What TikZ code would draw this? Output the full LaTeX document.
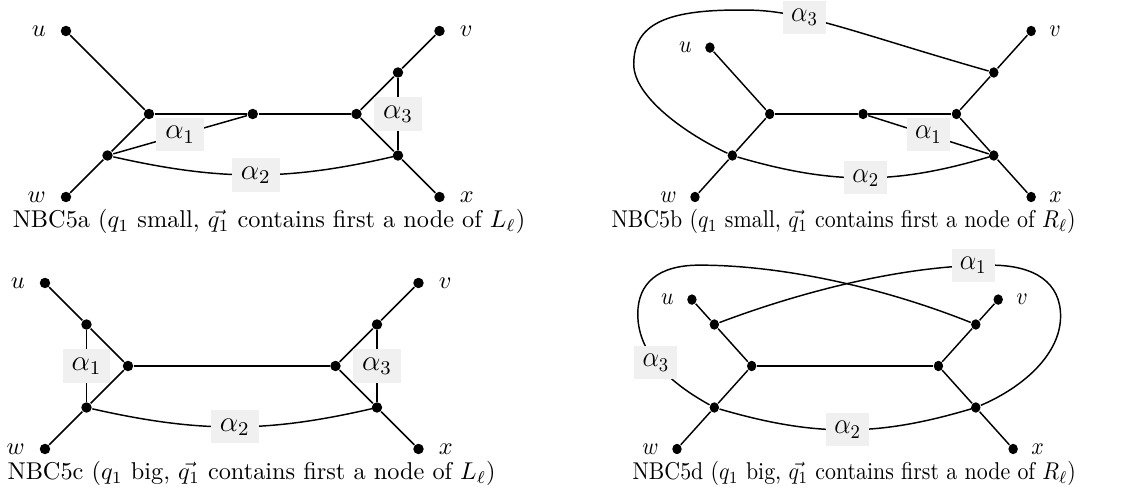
\documentclass[tikz,border=0pt]{standalone}
\usepackage{amsmath}
\usepackage{amssymb}
\tikzset{
  vert/.style={circle,fill,inner sep=0pt,minimum size=4.3pt},
  elab/.style={fill=gray!12,font=\large,inner sep=0.5pt,minimum width=19.7pt,minimum height=13.6pt},
  capt/.style={inner sep=0pt},
  every label/.style={inner sep=1pt},
}
\begin{document}
\begin{tikzpicture}[x=0.6cm,y=0.6cm,semithick,label distance=4.6pt]
    \useasboundingbox (-1.59,-7.108) rectangle (25.928,4.747);
    % NBC5a
    \begin{scope}[name prefix=a-]
        \node[vert,label=left:$u$] (u) at (0,4) {};
        \node[vert,label=left:$w$] (w) at (0,0) {};
        \node[vert,label=right:$v$] (v) at (9,4) {};
        \node[vert,label=right:$x$] (x) at (9,0) {};
        \node[vert] (l) at (2,2) {};
        \node[vert] (ll) at (1,1) {};
        \node[vert] (m) at (4.5,2) {};
        \node[vert] (r) at (7,2) {};
        \node[vert] (ur) at (8,3) {};
        \node[vert] (lr) at (8,1) {};
        \draw (u) -- (l) -- (ll) -- (w);
        \draw (l) -- (m) -- (r);
        \draw (v) -- (ur) -- (r) -- (lr) -- (x);
        \draw (ll) -- node[elab]{$\alpha_1$} (m);
        \draw (ll) to[bend right=13] node[elab]{$\alpha_2$} (lr);
        \draw (ur) -- node[elab]{$\alpha_3$} (lr);
        \node[capt,anchor=base west] (cap) at (-1.30,-0.74) {NBC5a ($q_1$ small, $\vec{q_1}$ contains first a node of $L_\ell$)};
    \end{scope}
    % NBC5b
    \begin{scope}[name prefix=b-,shift={(15.157,0)},xscale=0.9,transform shape]
        \node[vert,label=left:$u$] (u) at (0.4,3.6) {};
        \node[vert,label=left:$w$] (w) at (0,0) {};
        \node[vert,label=right:$v$] (v) at (9,4) {};
        \node[vert,label=right:$x$] (x) at (9,0) {};
        \node[vert] (l) at (2,2) {};
        \node[vert] (ll) at (1,1) {};
        \node[vert] (m) at (4.5,2) {};
        \node[vert] (r) at (7,2) {};
        \node[vert] (ur) at (8,3) {};
        \node[vert] (lr) at (8,1) {};
        \draw (u) -- (l) -- (ll) -- (w);
        \draw (l) -- (m) -- (r);
        \draw (v) -- (ur) -- (r) -- (lr) -- (x);
        \draw (m) -- node[elab]{$\alpha_1$} (lr);
        \draw (ll) to[bend right=15] node[elab]{$\alpha_2$} (lr);
        \draw (ur) .. controls (4.5,3.9) and (3,4.45) .. (1.6,4.5) node[elab,pos=0.7]{$\alpha_3$}
            .. controls (-0.6,4.55) and (-1.64,4.25) .. (-1.64,3.2)
            .. controls (-1.64,2.4) and (-0.2,1.5) .. (ll);
        \node[capt,anchor=base east] (cap) at (10.21,-0.74) {NBC5b ($q_1$ small, $\vec{q_1}$ contains first a node of $R_\ell$)};
    \end{scope}
    % NBC5c
    \begin{scope}[name prefix=c-,shift={(-0.506,-6.072)}]
        \node[vert,label=left:$u$] (u) at (0,4) {};
        \node[vert,label=left:$w$] (w) at (0,0) {};
        \node[vert,label=right:$v$] (v) at (9,4) {};
        \node[vert,label=right:$x$] (x) at (9,0) {};
        \node[vert] (ul) at (1,3) {};
        \node[vert] (ll) at (1,1) {};
        \node[vert] (l) at (2,2) {};
        \node[vert] (r) at (7,2) {};
        \node[vert] (ur) at (8,3) {};
        \node[vert] (lr) at (8,1) {};
        \draw (u) -- (ul) -- (l) -- (ll) -- (w);
        \draw (l) -- (r);
        \draw (v) -- (ur) -- (r) -- (lr) -- (x);
        \draw (ul) -- node[elab]{$\alpha_1$} (ll);
        \draw (ll) to[bend right=13] node[elab]{$\alpha_2$} (lr);
        \draw (ur) -- node[elab]{$\alpha_3$} (lr);
        \node[capt,anchor=base west] (cap) at (-0.92,-0.74) {NBC5c ($q_1$ big, $\vec{q_1}$ contains first a node of $L_\ell$)};
    \end{scope}
    % NBC5d
    \begin{scope}[name prefix=d-,shift={(14.723,-6.072)},xscale=0.9,transform shape]
        \node[vert,label=left:$u$] (u) at (0.4,3.6) {};
        \node[vert,label=left:$w$] (w) at (0,0) {};
        \node[vert,label=right:$v$] (v) at (8.6,3.6) {};
        \node[vert,label=right:$x$] (x) at (9,0) {};
        \node[vert] (ul) at (1,3) {};
        \node[vert] (ll) at (1,1) {};
        \node[vert] (l) at (2,2) {};
        \node[vert] (r) at (7,2) {};
        \node[vert] (ur) at (8,3) {};
        \node[vert] (lr) at (8,1) {};
        \draw (u) -- (ul) -- (l) -- (ll) -- (w);
        \draw (l) -- (r);
        \draw (v) -- (ur) -- (r) -- (lr) -- (x);
        \draw (ll) to[bend right=15] node[elab]{$\alpha_2$} (lr);
        \draw (ul) .. controls (3.5,3.85) and (6.2,4.43) .. (8.4,4.43) node[elab,pos=0.93]{$\alpha_1$}
            .. controls (9.6,4.43) and (10.27,4) .. (10.27,3.2)
            .. controls (10.27,2.3) and (9.3,1.5) .. (lr);
        \draw (ur) .. controls (5.5,3.9) and (2.8,4.43) .. (0.6,4.43)
            .. controls (-0.5,4.43) and (-1.05,4) .. (-1.05,3.25)
            .. controls (-1.05,2.2) and (0,1.5) .. (ll) node[elab,pos=0.43]{$\alpha_3$};
        \node[capt,anchor=base east] (cap) at (10.70,-0.74) {NBC5d ($q_1$ big, $\vec{q_1}$ contains first a node of $R_\ell$)};
    \end{scope}
\end{tikzpicture}
\end{document}
